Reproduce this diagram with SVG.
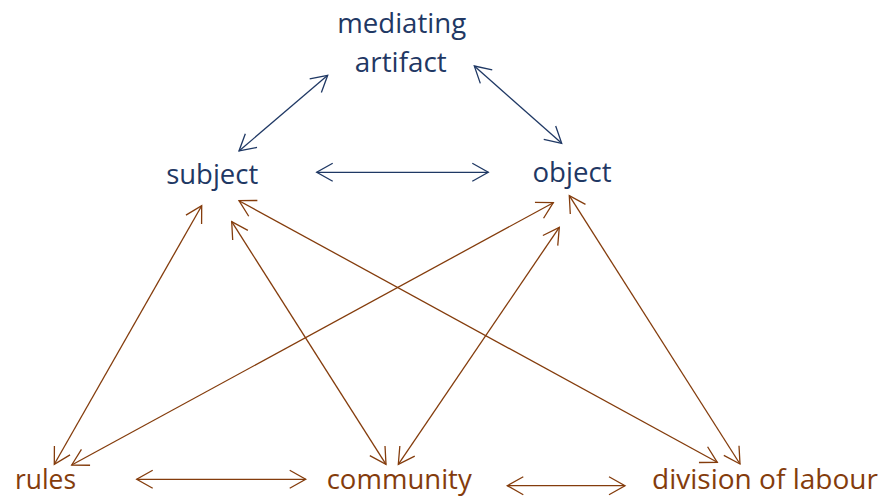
<svg xmlns="http://www.w3.org/2000/svg" width="883" height="497" viewBox="0 0 883 497">
<style>
.t{font-family:"Open Sans","Noto Sans","Liberation Sans",sans-serif;font-size:28px;text-anchor:middle}
.b{fill:#1F3864}
.r{fill:#843C0C}
.cb{stroke:#1F3864;stroke-width:1.3;fill:none;marker-start:url(#ab);marker-end:url(#ab)}
.cr{stroke:#843C0C;stroke-width:1.3;fill:none;marker-start:url(#ar);marker-end:url(#ar)}
</style>
<defs>
<marker id="ab" viewBox="-18 -11 20 22" markerWidth="20" markerHeight="22" refX="0" refY="0" markerUnits="userSpaceOnUse" orient="auto-start-reverse">
<path d="M-16,-9 L0,0 L-16,9" fill="none" stroke="#1F3864" stroke-width="1.3"/>
</marker>
<marker id="ar" viewBox="-18 -11 20 22" markerWidth="20" markerHeight="22" refX="0" refY="0" markerUnits="userSpaceOnUse" orient="auto-start-reverse">
<path d="M-16,-9 L0,0 L-16,9" fill="none" stroke="#843C0C" stroke-width="1.3"/>
</marker>
</defs>
<g id="connectors">
<line class="cb" x1="239" y1="151" x2="327.7" y2="75.3"/>
<line class="cb" x1="474.3" y1="66" x2="561.7" y2="143.3"/>
<line class="cb" x1="316.7" y1="172.3" x2="488.3" y2="172.3"/>
<line class="cr" x1="201.7" y1="205.7" x2="54.3" y2="464.3"/>
<line class="cr" x1="231.7" y1="221.7" x2="386" y2="464.3"/>
<line class="cr" x1="239" y1="200.7" x2="717.3" y2="462.3"/>
<line class="cr" x1="553.3" y1="202.7" x2="71.7" y2="465"/>
<line class="cr" x1="559.3" y1="227.3" x2="398.3" y2="464.3"/>
<line class="cr" x1="569.3" y1="195.7" x2="740" y2="464"/>
<line class="cr" x1="136.7" y1="479.3" x2="305.7" y2="479.3"/>
<line class="cr" x1="507.3" y1="485.7" x2="625" y2="485.7"/>
</g>
<g id="mediating-artifact">
<text class="t b" x="401.7" y="33" textLength="129" lengthAdjust="spacingAndGlyphs">mediating</text>
<text class="t b" x="400.8" y="71.5" textLength="92" lengthAdjust="spacingAndGlyphs">artifact</text>
</g>
<g id="subject"><text class="t b" x="212.2" y="184" textLength="92" lengthAdjust="spacingAndGlyphs">subject</text></g>
<g id="object"><text class="t b" x="572" y="181.5" textLength="79" lengthAdjust="spacingAndGlyphs">object</text></g>
<g id="rules"><text class="t r" x="45.5" y="489" textLength="61" lengthAdjust="spacingAndGlyphs">rules</text></g>
<g id="community"><text class="t r" x="399.2" y="489" textLength="145" lengthAdjust="spacingAndGlyphs">community</text></g>
<g id="division-of-labour"><text class="t r" x="765" y="489" textLength="226" lengthAdjust="spacingAndGlyphs">division of labour</text></g>
</svg>
